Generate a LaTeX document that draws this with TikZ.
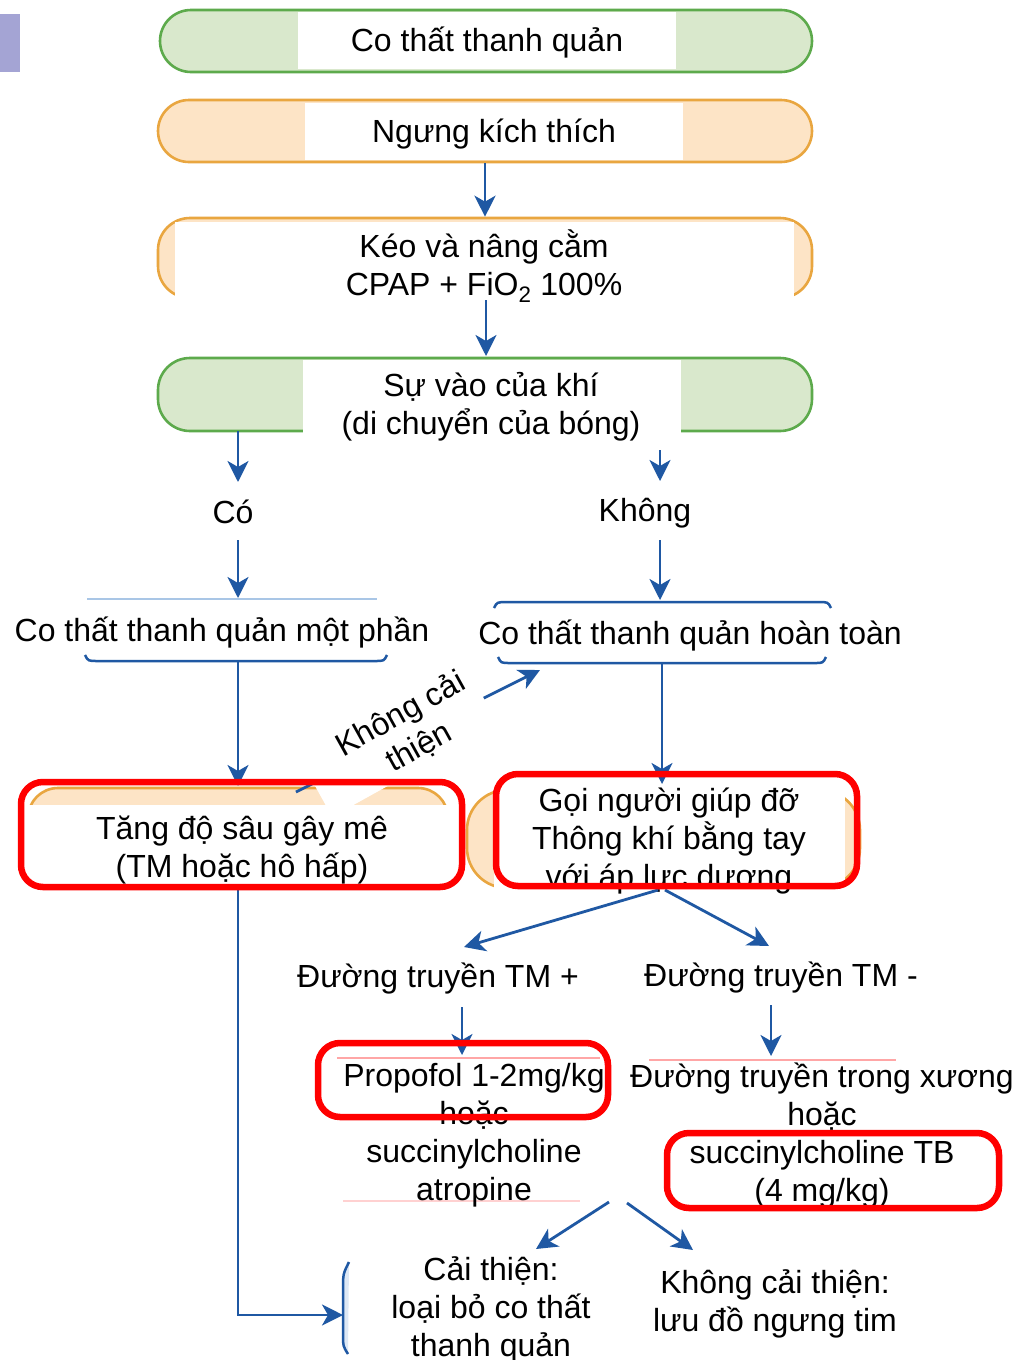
\documentclass[tikz,border=0pt]{standalone}
\usepackage{fontspec}
\setmainfont{Liberation Sans}
\usetikzlibrary{arrows.meta}
\definecolor{gfill}{HTML}{D9E8CC}
\definecolor{gline}{HTML}{5DAA4C}
\definecolor{ofill}{HTML}{FDE4C6}
\definecolor{oline}{HTML}{E9A640}
\definecolor{ablue}{HTML}{1F58A3}
\definecolor{lblue}{HTML}{A9C6E6}
\definecolor{purp}{HTML}{A4A4D4}
\begin{document}
\begin{tikzpicture}[x=1pt,y=-1pt,
  txt/.style={font=\fontsize{32}{38}\selectfont, align=center, inner sep=0pt},
  gbox/.style={draw=gline, fill=gfill, line width=2.6pt},
  obox/.style={draw=oline, fill=ofill, line width=2.6pt},
  wbox/.style={fill=white, inner sep=0pt, outer sep=0pt},
  redbox/.style={draw=red, line width=6.5pt, rounded corners=22pt, inner sep=0pt},
  arr/.style={draw=ablue, line width=2.8pt, -{Stealth[length=21pt,width=21pt,inset=6pt]}},
  conn/.style={draw=ablue, line width=2.8pt},
  faint/.style={line width=2pt}]
\useasboundingbox (0,0) rectangle (1028,1360);
\fill[white] (0,0) rectangle (1028,1360);
% side marker
\node[fill=purp, inner sep=0pt, minimum width=20pt, minimum height=58pt] (mark) at (10,43) {};

% top boxes
\node[gbox, rounded corners=31pt, minimum width=652pt, minimum height=62pt] (s1) at (486,41) {};
\node[wbox, minimum width=378pt, minimum height=57pt] (w1) at (487,40.5) {};
\node[txt] (t1) at (487,43) {Co thất thanh quản};

\node[obox, rounded corners=31pt, minimum width=654pt, minimum height=62pt] (s2) at (485,131) {};
\node[wbox, minimum width=378pt, minimum height=57pt] (w2) at (494,131.5) {};
\node[txt] (t2) at (494,134) {Ngưng kích thích};

\node[obox, rounded corners=32pt, minimum width=654pt, minimum height=80pt] (s3) at (485,258) {};
\node[wbox, minimum width=619pt, minimum height=79pt] (w3) at (484.5,261.5) {};
\node[txt] (t3) at (484,266) {Kéo và nâng cằm\\CPAP + FiO\textsubscript{2} 100\%};

\node[gbox, rounded corners=32pt, minimum width=654pt, minimum height=73pt] (s4) at (485,394.5) {};
\node[wbox, minimum width=378pt, minimum height=85pt] (w4) at (492,402.5) {};
\node[txt] (t4) at (491,407) {Sự vào của khí\\(di chuyển của bóng)};

\node[txt] (tco) at (233,512) {Có};
\node[txt] (tkh) at (645,513) {Không};

\node[txt] (tp) at (222,633) {Co thất thanh quản một phần};
\node[txt] (tc) at (690,636) {Co thất thanh quản hoàn toàn};
\draw[draw=lblue, line width=1.5pt] (87,599) -- (377,599);
\draw[conn, line width=2.5pt] (85,655) .. controls (88,661) .. (98,661) -- (375,661) .. controls (384,661) .. (387,655);
\draw[conn, line width=2.5pt] (494,608) .. controls (497,602) .. (508,602) -- (818,602) .. controls (828,602) .. (831,608);
\draw[conn, line width=2.5pt] (498,657) .. controls (501,663) .. (510,663) -- (815,663) .. controls (823,663) .. (826,657);

% middle boxes
\node[obox, rounded corners=30pt, minimum width=420pt, minimum height=96pt] (st) at (238,836) {};
\node[wbox, minimum width=426pt, minimum height=80pt] (wt) at (238.5,845) {};
\node[obox, rounded corners=40pt, minimum width=393pt, minimum height=98pt] (sg) at (663.5,839) {};
\node[wbox, minimum width=351pt, minimum height=105pt] (wg) at (669.5,839.5) {};

% diagonal "Không cải thiện"
\coordinate (dstart) at (296,792);
\coordinate (dend) at (540,670);
\draw[arr] (dstart) -- (dend);
\node[wbox, rotate=29, minimum width=190pt, minimum height=100pt] (lblbg) at (391,727) {};
\node[txt, rotate=29] (lbl) at (410,731) {Không cải\\thiện};

\node[txt] (tt) at (242,850) {Tăng độ sâu gây mê\\(TM hoặc hô hấp)};
\node[txt] (tg) at (669,841) {Gọi người giúp đỡ\\Thông khí bằng tay\\với áp lực dương};

\node[txt] (tdp) at (438,979) {Đường truyền TM +};
\node[txt] (tdm) at (781,978) {Đường truyền TM -};

\draw[draw=red!35, faint] (337,1058) -- (600,1058);
\draw[draw=red!18, line width=1.5pt] (343,1201) -- (580,1201);
\draw[draw=red!35, faint] (649,1060) -- (896,1060);

\node[txt] (tpr) at (474,1135) {Propofol 1-2mg/kg\\hoặc\\succinylcholine\\atropine};
\node[txt] (trt) at (822,1136) {Đường truyền trong xương\\hoặc\\succinylcholine TB\\(4 mg/kg)};

\draw[conn, line width=2.5pt, fill=lblue!40] (349,1262) .. controls (343,1274) .. (343,1290) -- (343,1335) .. controls (343,1346) .. (348,1354);
\node[txt] (tci) at (491,1310) {Cải thiện:\\loại bỏ co thất\\thanh quản};
\node[txt] (tkc) at (775,1304) {Không cải thiện:\\lưu đồ ngưng tim};

% connectors
\draw[arr] (s2.south) -- (s3.north);
\draw[arr] (486,300) coordinate (a2s) -- (486,356) coordinate (a2e);
\coordinate (c1s) at (238,431); \coordinate (c1e) at (238,482);
\draw[arr] (c1s) -- (c1e);
\coordinate (c2s) at (660,450); \coordinate (c2e) at (660,481);
\draw[arr] (c2s) -- (c2e);
\coordinate (c3s) at (238,540); \coordinate (c3e) at (238,598);
\draw[arr] (c3s) -- (c3e);
\coordinate (c4s) at (660,540); \coordinate (c4e) at (660,600);
\draw[arr] (c4s) -- (c4e);
\coordinate (c5s) at (238,662); \coordinate (c5e) at (238,786);
\draw[arr] (c5s) -- (c5e);
\coordinate (c6s) at (662,664); \coordinate (c6e) at (662,784);
\draw[arr] (c6s) -- (c6e);
\coordinate (c7s) at (658,890); \coordinate (c7e) at (464,947);
\draw[arr] (c7s) -- (c7e);
\coordinate (c8s) at (665,890); \coordinate (c8e) at (769,946);
\draw[arr] (c8s) -- (c8e);
\coordinate (c9s) at (462,1007); \coordinate (c9e) at (462,1055);
\draw[arr] (c9s) -- (c9e);
\coordinate (c10s) at (771,1005); \coordinate (c10e) at (771,1056);
\draw[arr] (c10s) -- (c10e);
\coordinate (c11s) at (609,1202); \coordinate (c11e) at (536,1249);
\draw[arr] (c11s) -- (c11e);
\coordinate (c12s) at (627,1203); \coordinate (c12e) at (693,1250);
\draw[arr] (c12s) -- (c12e);
\coordinate (c13s) at (238,887); \coordinate (c13e) at (343,1315);
\draw[arr] (c13s) |- (c13e);

% red highlight boxes
\node[redbox, minimum width=441pt, minimum height=105pt] (rt) at (241.5,834.5) {};
\node[redbox, minimum width=361pt, minimum height=112pt] (rg) at (676.5,830) {};
\node[redbox, minimum width=290pt, minimum height=74pt] (rp) at (463,1080) {};
\node[redbox, minimum width=332pt, minimum height=75pt] (rs) at (833,1170.5) {};
\end{tikzpicture}
\end{document}
